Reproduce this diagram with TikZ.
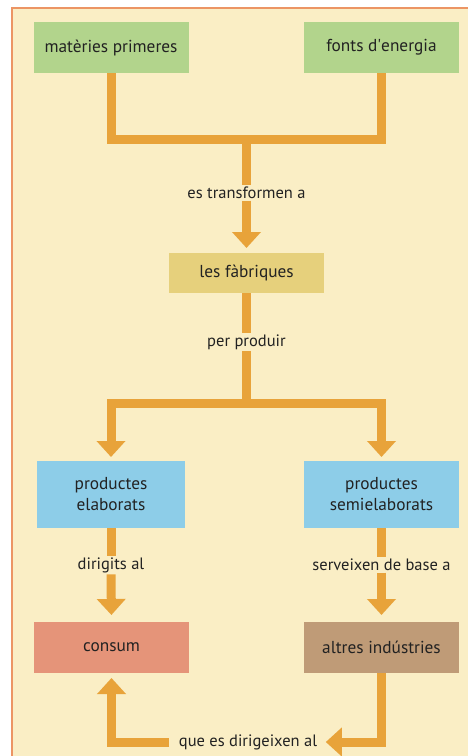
\documentclass[tikz,border=0pt]{standalone}
\usepackage{fontspec}
\setmainfont{PT Sans}
\usetikzlibrary{arrows.meta,positioning}

\definecolor{paper}{HTML}{FAEEC5}
\definecolor{frame}{HTML}{EC9564}
\definecolor{flowc}{HTML}{E8A33A}
\definecolor{ink}{HTML}{222222}
\definecolor{greenbox}{HTML}{B2D48C}
\definecolor{yellowbox}{HTML}{E6D07C}
\definecolor{bluebox}{HTML}{8DCDE8}
\definecolor{salmonbox}{HTML}{E59479}
\definecolor{brownbox}{HTML}{BF9B77}

\begin{document}
\begin{tikzpicture}[x=1pt,y=-1pt,>={Triangle[width=28pt,length=16pt]}]
  % Global box size and text style
  \def\bw{155} % box width in pt
  \tikzset{
    box/.style  = {minimum width=\bw pt, minimum height=51pt, inner sep=0pt, outer sep=0pt,
                   align=center, text=ink, font=\fontsize{17.3}{21}\selectfont},
    lab/.style  = {text=ink, inner sep=1.5pt, font=\fontsize{16.5}{18}\selectfont},
    flow/.style = {draw=flowc, line width=9pt}
  }

  % page and background panel
  \useasboundingbox (0,0) rectangle (468,756);
  \fill[paper] (12,8) rectangle (470,760);
  \draw[frame, line width=1.2pt] (12,760) -- (12,8) -- (470,8);

  % ========= top row: the inputs =========
  \node[box, fill=greenbox] (mat)   at (111,47.5)   {matèries primeres};
  \node[box, fill=greenbox] (fonts) at (381.5,47.5) {fonts d\textquotesingle energia};

  % ========= middle: the factories =========
  \node[box, fill=yellowbox, minimum height=40pt] (fab) at (246.5,273) {les fàbriques};

  % ========= products =========
  \node[box, fill=bluebox, minimum width=148pt, minimum height=67pt] (elab) at (111,494.5) {productes\\elaborats};
  \node[box, fill=bluebox, minimum height=67pt] (semi) at (381.5,494.5) {productes\\semielaborats};

  % ========= bottom row: destinations =========
  \node[box, fill=salmonbox] (consum) at (111.5,647.5) {consum};
  \node[box, fill=brownbox]  (altres) at (381.5,647.5) {altres indústries};

  % labels on the connectors
  \node[lab] (ltrans) at (246.5,193) {es transformen a};
  \node[lab] (lprod)  at (246.5,342) {per produir};
  \node[lab] (ldir)   at (111,565)   {dirigits al};
  \node[lab] (lbase)  at (381.5,565) {serveixen de base a};
  \node[lab] (lque)   at (248,742)   {que es dirigeixen al};

  % junction points
  \coordinate (join)  at (246.5,139);
  \coordinate (split) at (246.5,403);

  % ========= connectors =========
  \draw[flow] (mat.south) |- (join) -| (fonts.south);
  \draw[flow] (join) -- (ltrans.north);
  \draw[flow, ->, shorten >=5pt] (ltrans.south) -- (fab.north);
  \draw[flow] (fab.south) -- (lprod.north);
  \draw[flow] (lprod.south) -- (split);
  \draw[flow, ->, shorten >=4pt] (split) -| (elab.north);
  \draw[flow, ->, shorten >=4pt] (split) -| (semi.north);
  \draw[flow] (elab.south) -- (ldir.north);
  \draw[flow, ->, shorten >=7pt] (ldir.south) -- (consum.north);
  \draw[flow] (semi.south) -- (lbase.north);
  \draw[flow, ->, shorten >=7pt] (lbase.south) -- (altres.north);
  \draw[flow, ->, shorten >=7pt] (altres.south) |- (lque.east);
  \draw[flow, ->, shorten <=8pt, shorten >=5pt] (lque.west) -| (consum.south);
\end{tikzpicture}
\end{document}
